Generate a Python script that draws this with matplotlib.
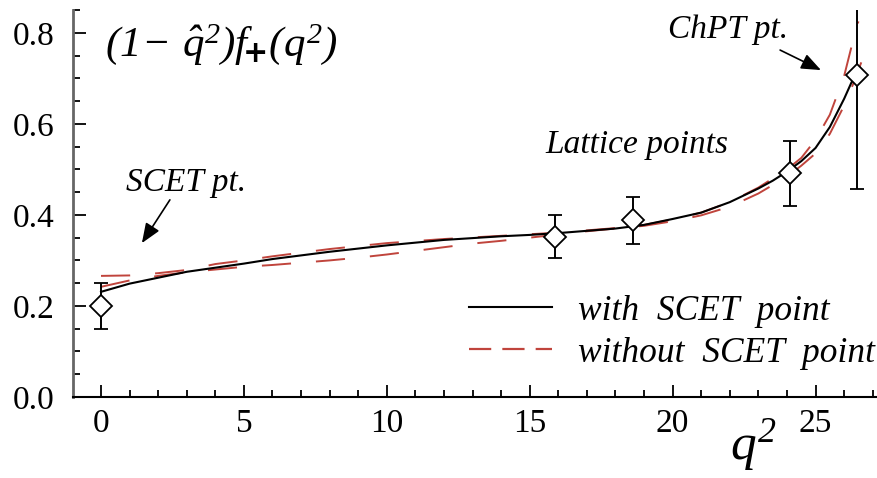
import matplotlib
matplotlib.use('Agg')
import matplotlib.pyplot as plt
from matplotlib.lines import Line2D
from matplotlib.ticker import MultipleLocator, FormatStrFormatter

plt.rcParams['font.family'] = 'Liberation Serif'
plt.rcParams['mathtext.fontset'] = 'custom'
plt.rcParams['mathtext.rm'] = 'Liberation Serif:italic'
plt.rcParams['mathtext.it'] = 'Liberation Serif:italic'
plt.rcParams['lines.scale_dashes'] = False

# SCET point, lattice points, ChPT point
pt_q2 = [0.0, 15.87, 18.6, 24.1, 26.44]
pt_val = [0.200, 0.352, 0.388, 0.491, 0.707]
pt_err = [0.050, 0.047, 0.051, 0.072, 0.250]

# fit including the SCET point
fit_q2 = [0, 1, 2, 3, 4, 5, 6, 7, 8, 9, 10, 11, 12, 13, 14, 15, 16, 17, 18, 19,
          20, 21, 22, 23, 23.5, 24, 24.5, 25, 25.5, 26, 26.25, 26.5]
fit_val = [0.231, 0.249, 0.262, 0.275, 0.284, 0.293, 0.303, 0.311, 0.319, 0.326,
           0.333, 0.339, 0.345, 0.349, 0.353, 0.356, 0.360, 0.365, 0.370, 0.378,
           0.391, 0.405, 0.428, 0.458, 0.475, 0.495, 0.518, 0.547, 0.593, 0.655,
           0.690, 0.718]

# fits without the SCET point (upper / lower)
up_q2 = [0, 1, 2, 3, 4, 5, 6, 7, 8, 10, 12, 14, 16, 18, 19, 20, 21, 22, 23,
         24, 24.5, 25, 25.5, 26, 26.3, 26.5]
up_val = [0.266, 0.267, 0.272, 0.279, 0.292, 0.300, 0.309, 0.317, 0.325, 0.338,
          0.347, 0.354, 0.361, 0.371, 0.378, 0.390, 0.405, 0.428, 0.460, 0.500,
          0.525, 0.565, 0.620, 0.705, 0.780, 0.825]
lo_q2 = [0, 1, 2, 3, 4, 5, 6, 7, 8, 9, 10, 11, 12, 13, 14, 15, 16, 17, 18, 19,
         20, 21, 22, 23, 24, 24.5, 25, 25.5, 26, 26.3, 26.6]
lo_val = [0.242, 0.256, 0.266, 0.274, 0.280, 0.286, 0.290, 0.295, 0.300, 0.306,
          0.313, 0.321, 0.329, 0.337, 0.343, 0.350, 0.357, 0.364, 0.370, 0.376,
          0.386, 0.399, 0.418, 0.447, 0.484, 0.508, 0.535, 0.578, 0.640, 0.685,
          0.735]

red = '#c0443c'
fig = plt.figure(figsize=(8.78, 4.78), dpi=100)
ax = fig.add_axes([73 / 878, 81 / 478, 804 / 878, 387 / 478])

ax.plot(up_q2, up_val, color=red, lw=1.4, dashes=(21, 18))
ax.plot(lo_q2, lo_val, color=red, lw=1.4, dashes=(21, 18))
ax.plot(fit_q2, fit_val, color='black', lw=1.5)
ax.errorbar(pt_q2, pt_val, yerr=pt_err, fmt='D', ms=11, mfc='white', mec='black',
            mew=1.3, ecolor='black', elinewidth=1.4, capsize=5, capthick=1.4,
            zorder=5)

ax.set_xlim(-0.98, 27.15)
ax.set_ylim(0, 0.85)
ax.xaxis.set_major_locator(MultipleLocator(5))
ax.xaxis.set_minor_locator(MultipleLocator(1))
ax.yaxis.set_major_locator(MultipleLocator(0.2))
ax.yaxis.set_minor_locator(MultipleLocator(0.05))
ax.yaxis.set_major_formatter(FormatStrFormatter('%.1f'))
ax.tick_params(which='both', direction='in', labelsize=24, width=1.3)
ax.tick_params(which='major', length=9)
ax.tick_params(which='minor', length=5)
ax.tick_params(axis='x', which='major', pad=8)
ax.tick_params(axis='y', which='major', pad=13)
for s in ['top', 'right']:
    ax.spines[s].set_visible(False)
ax.spines['left'].set_color('#666666')
ax.spines['left'].set_linewidth(2)
ax.spines['bottom'].set_linewidth(1.5)

ax.text(0.04, 0.91, r'$(1\!-\,\hat{q}^{2})f_{\!\mathbf{+}}(q^{2})$', transform=ax.transAxes,
        fontsize=31, va='center', ha='left')
fig.text(0.858, 0.068, r'$q^{2}$', fontsize=37, ha='center', va='center')

lab = dict(fontsize=24, fontstyle='italic', ha='center', va='center')
ax.text(2.97, 0.47, 'SCET pt.', **lab)
ax.text(18.76, 0.553, 'Lattice points', **lab)
ax.text(21.94, 0.806, 'ChPT pt.', **lab)
arr = dict(arrowstyle='-|>,head_length=1.0,head_width=0.4', color='black', lw=1.2,
           mutation_scale=12, shrinkA=0, shrinkB=0)
ax.annotate('', xy=(1.43, 0.338), xytext=(2.41, 0.433), arrowprops=arr)
ax.annotate('', xy=(25.19, 0.718), xytext=(23.76, 0.762), arrowprops=arr)

handles = [Line2D([], [], color='black', lw=1.5),
           Line2D([], [], color=red, lw=1.6, dashes=(16, 8))]
ax.legend(handles, ['with  SCET  point', 'without  SCET  point'], loc='upper left',
          bbox_to_anchor=(0.47, 0.31), frameon=False, borderpad=0, handlelength=2.35,
          handletextpad=0.75, labelspacing=0.25, prop=dict(size=25.5, style='italic'))

fig.savefig('out.png', dpi=100)
